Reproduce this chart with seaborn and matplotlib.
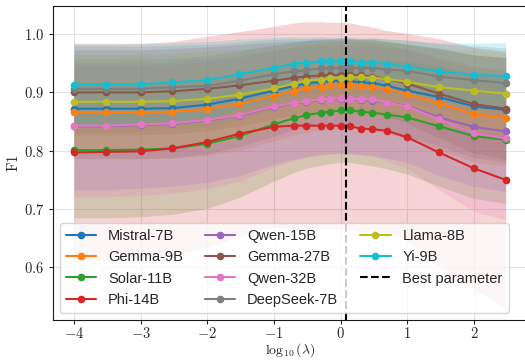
import numpy as np
import pandas as pd
import matplotlib
matplotlib.use("Agg")
import matplotlib.pyplot as plt
import seaborn as sns
from matplotlib.ticker import FuncFormatter

# lambda grid (x axis is log10 of these)
lambdas = [1e-4, 3e-4, 1e-3, 3e-3, 1e-2, 3e-2, 0.1, 0.2, 0.3, 0.5, 0.7,
           1.0, 1.4, 2.0, 3.0, 5.0, 10.0, 30.0, 100.0, 300.0]
best_lambda = 1.2

models = ["Mistral-7B", "Gemma-9B", "Solar-11B", "Phi-14B", "Qwen-15B",
          "Gemma-27B", "Qwen-32B", "DeepSeek-7B", "Llama-8B", "Yi-9B"]

# mean F1 per model
mistral_mean = [0.872, 0.872, 0.872, 0.873, 0.879, 0.889, 0.903, 0.911, 0.915, 0.918,
                0.919, 0.920, 0.919, 0.917, 0.916, 0.911, 0.903, 0.892, 0.876, 0.870]
gemma9_mean = [0.866, 0.866, 0.866, 0.867, 0.872, 0.880, 0.894, 0.903, 0.907, 0.910,
               0.912, 0.913, 0.913, 0.911, 0.910, 0.906, 0.897, 0.881, 0.863, 0.856]
solar_mean = [0.801, 0.801, 0.802, 0.804, 0.812, 0.825, 0.845, 0.856, 0.861, 0.865,
              0.867, 0.869, 0.869, 0.867, 0.865, 0.862, 0.857, 0.842, 0.825, 0.819]
phi_mean = [0.797, 0.798, 0.799, 0.804, 0.815, 0.829, 0.841, 0.843, 0.843, 0.843,
            0.843, 0.843, 0.842, 0.838, 0.837, 0.834, 0.823, 0.797, 0.770, 0.750]
qwen15_mean = [0.842, 0.842, 0.844, 0.846, 0.852, 0.860, 0.875, 0.881, 0.884, 0.887,
               0.888, 0.889, 0.888, 0.887, 0.886, 0.882, 0.877, 0.857, 0.841, 0.833]
gemma27_mean = [0.900, 0.900, 0.900, 0.902, 0.906, 0.912, 0.920, 0.925, 0.927, 0.929,
                0.930, 0.930, 0.930, 0.929, 0.927, 0.923, 0.915, 0.898, 0.880, 0.872]
qwen32_mean = [0.843, 0.843, 0.845, 0.847, 0.853, 0.861, 0.876, 0.882, 0.885, 0.888,
               0.889, 0.890, 0.889, 0.888, 0.888, 0.882, 0.876, 0.854, 0.830, 0.821]
deepseek_mean = [0.906, 0.906, 0.906, 0.909, 0.911, 0.920, 0.931, 0.936, 0.938, 0.941,
                 0.941, 0.942, 0.942, 0.942, 0.942, 0.939, 0.937, 0.927, 0.921, 0.916]
llama_mean = [0.884, 0.884, 0.884, 0.885, 0.889, 0.896, 0.907, 0.915, 0.920, 0.922,
              0.924, 0.925, 0.926, 0.926, 0.925, 0.923, 0.918, 0.909, 0.903, 0.898]
yi_mean = [0.913, 0.913, 0.914, 0.917, 0.921, 0.931, 0.942, 0.949, 0.951, 0.953,
           0.953, 0.953, 0.953, 0.951, 0.951, 0.949, 0.944, 0.936, 0.930, 0.928]

# standard deviation per model
mistral_std = [0.085, 0.085, 0.085, 0.085, 0.084, 0.082, 0.078, 0.075, 0.074, 0.073,
               0.073, 0.073, 0.073, 0.074, 0.075, 0.076, 0.079, 0.084, 0.088, 0.090]
gemma9_std = [0.080, 0.080, 0.080, 0.080, 0.080, 0.079, 0.077, 0.076, 0.075, 0.075,
              0.075, 0.075, 0.075, 0.075, 0.075, 0.076, 0.077, 0.079, 0.082, 0.083]
solar_std = [0.116, 0.116, 0.115, 0.113, 0.111, 0.105, 0.097, 0.093, 0.091, 0.090,
             0.089, 0.089, 0.089, 0.090, 0.091, 0.093, 0.097, 0.103, 0.107, 0.109]
phi_std = [0.187, 0.186, 0.185, 0.183, 0.181, 0.175, 0.172, 0.176, 0.178, 0.178,
           0.177, 0.177, 0.177, 0.177, 0.175, 0.172, 0.178, 0.195, 0.207, 0.220]
qwen15_std = [0.109, 0.109, 0.108, 0.107, 0.106, 0.103, 0.098, 0.095, 0.094, 0.093,
              0.093, 0.093, 0.093, 0.093, 0.094, 0.095, 0.097, 0.100, 0.102, 0.103]
gemma27_std = [0.073, 0.073, 0.073, 0.073, 0.072, 0.070, 0.066, 0.063, 0.062, 0.061,
               0.060, 0.060, 0.060, 0.061, 0.062, 0.064, 0.068, 0.076, 0.084, 0.087]
qwen32_std = [0.122, 0.122, 0.121, 0.120, 0.118, 0.113, 0.104, 0.099, 0.097, 0.096,
              0.095, 0.095, 0.095, 0.096, 0.097, 0.100, 0.106, 0.121, 0.134, 0.139]
deepseek_std = [0.074, 0.074, 0.073, 0.072, 0.071, 0.066, 0.060, 0.056, 0.054, 0.052,
                0.051, 0.051, 0.051, 0.051, 0.051, 0.052, 0.053, 0.056, 0.059, 0.060]
llama_std = [0.081, 0.081, 0.081, 0.080, 0.079, 0.076, 0.071, 0.067, 0.065, 0.064,
             0.063, 0.063, 0.063, 0.063, 0.063, 0.064, 0.065, 0.067, 0.069, 0.070]
yi_std = [0.070, 0.070, 0.069, 0.068, 0.066, 0.060, 0.052, 0.046, 0.043, 0.042,
          0.041, 0.041, 0.041, 0.041, 0.042, 0.043, 0.045, 0.049, 0.054, 0.057]

means = [mistral_mean, gemma9_mean, solar_mean, phi_mean, qwen15_mean,
         gemma27_mean, qwen32_mean, deepseek_mean, llama_mean, yi_mean]
stds = [mistral_std, gemma9_std, solar_std, phi_std, qwen15_std,
        gemma27_std, qwen32_std, deepseek_std, llama_std, yi_std]

log_lam = np.log10(lambdas)
rows = []
for name, m, s in zip(models, means, stds):
    for x, mv, sv in zip(log_lam, m, s):
        rows.append({"log_lambda": x, "f1": mv, "std": sv, "model": name})
df = pd.DataFrame(rows)

sns.set_style("whitegrid", {"axes.edgecolor": "0.1", "xtick.bottom": True,
                            "ytick.left": True, "grid.color": "0.89"})
plt.rcParams["font.family"] = ["Liberation Sans", "DejaVu Sans"]
plt.rcParams["mathtext.fontset"] = "cm"
plt.rcParams["font.size"] = 10

palette = sns.color_palette("tab10", len(models))

fig = plt.figure(figsize=(5.25, 3.6), dpi=100)
ax = fig.add_axes([52.7 / 525, 40 / 360, 474.5 / 525, 314 / 360])

# shaded +/- std bands under the lines
for name, color in zip(models, palette):
    sub = df[df["model"] == name]
    ax.fill_between(sub["log_lambda"], sub["f1"] - sub["std"], sub["f1"] + sub["std"],
                    color=color, alpha=0.2, linewidth=0, zorder=1)

sns.lineplot(data=df, x="log_lambda", y="f1", hue="model", hue_order=models,
             palette=palette, marker="o", markersize=5.5, markeredgewidth=0,
             linewidth=1.5, errorbar=None, ax=ax, zorder=3)

ax.axvline(np.log10(best_lambda), color="black", linestyle="--", linewidth=1.5,
           label="Best parameter", zorder=4)

ax.set_xlim(-4.32, 2.80)
ax.set_ylim(0.51, 1.048)
ax.set_xticks([-4, -3, -2, -1, 0, 1, 2])
ax.set_yticks([0.6, 0.7, 0.8, 0.9, 1.0])
ax.xaxis.set_major_formatter(FuncFormatter(lambda v, p: f"${v:.0f}$"))
ax.yaxis.set_major_formatter(FuncFormatter(lambda v, p: f"${v:.1f}$"))
ax.tick_params(labelsize=10.5, length=3, pad=3)
ax.tick_params(axis="x", pad=1.5)
ax.set_xlabel(r"$\log_{10}(\lambda)$", fontsize=10)
ax.xaxis.set_label_coords(0.5, -0.066)
ax.set_ylabel(r"$\mathrm{F1}$", fontsize=10.5, labelpad=2)

handles, labels = ax.get_legend_handles_labels()
ax.legend(handles, labels, loc="lower left", ncol=3, fontsize=10.5,
          handlelength=2.1, columnspacing=1.5, title=None)

fig.savefig("out.png", dpi=100)
